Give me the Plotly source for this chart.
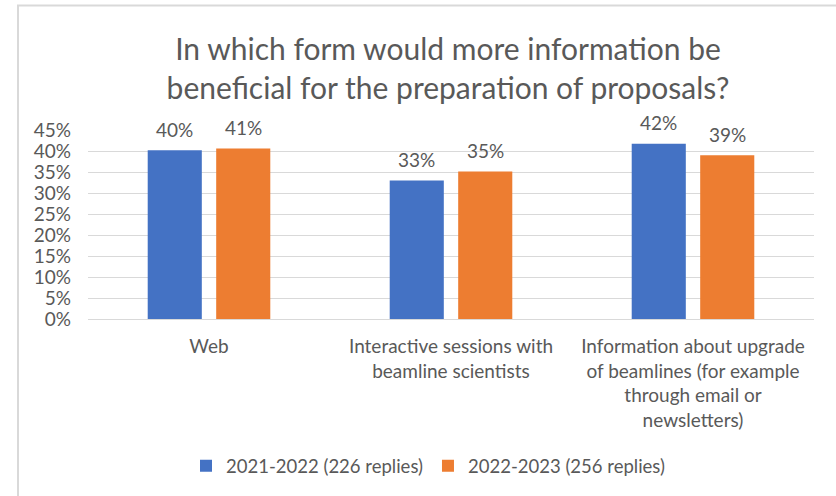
import plotly.graph_objects as go

categories = ["Web", "Interactive sessions with<br>beamline scientists",
              "Information about upgrade<br>of beamlines (for example<br>through email or<br>newsletters)"]
series_names = ["2021-2022 (226 replies)", "2022-2023 (256 replies)"]
values_2122 = [40.2, 33.0, 41.7]
values_2223 = [40.6, 35.1, 39.0]
y_ticks = [0, 5, 10, 15, 20, 25, 30, 35, 40, 45]

colors = ["#4472C4", "#ED7D31"]
FONT = "Lato"
GREY = "#595959"

fig = go.Figure()
for name, vals, col in zip(series_names, [values_2122, values_2223], colors):
    fig.add_trace(go.Bar(x=categories, y=vals, name=name, marker=dict(color=col, line=dict(width=0))))

annotations = []
for vals, shift in zip([values_2122, values_2223], [-34.25, 34.25]):
    for c, v in zip(categories, vals):
        annotations.append(dict(x=c, y=v, xref="x", yref="y", text=f"{round(v)}%", showarrow=False,
                                xshift=shift, yshift=21, yanchor="middle",
                                font=dict(family=FONT, size=19, color=GREY)))

L, R, T, B = 88, 22, 130.3, 177
W, H = 836, 496
pw, ph = W - L - R, H - T - B

fig.update_layout(
    width=W, height=H,
    margin=dict(l=L, r=R, t=T, b=B, autoexpand=False),
    paper_bgcolor="white", plot_bgcolor="white",
    bargap=0.434, bargroupgap=0.21,
    font=dict(family=FONT, size=18, color=GREY),
    title=dict(text="In which form would more information be<br>beneficial for the preparation of proposals?",
               x=448 / W, xanchor="center", y=1 - 60 / H, yanchor="top", automargin=False,
               font=dict(family=FONT, size=30, color=GREY)),
    showlegend=True,
    legend=dict(orientation="h", x=(428 - L) / pw, xanchor="center", y=-(466 - (H - B)) / ph, yanchor="middle",
                font=dict(family=FONT, size=18.5, color=GREY), traceorder="normal", itemwidth=30),
    annotations=annotations,
    shapes=[dict(type="rect", xref="paper", yref="paper",
                 x0=(18 - L) / pw, x1=2, y0=-2, y1=(H - B - 6) / ph,
                 line=dict(color="#D9D9D9", width=2), layer="below")],
)
fig.update_yaxes(range=[0, 45], tickvals=y_ticks, ticktext=[f"{t}%" for t in y_ticks], automargin=False,
                 showgrid=True, gridcolor="#D9D9D9", gridwidth=1, zeroline=False, showline=False,
                 ticks="", ticklabelstandoff=16, tickfont=dict(family=FONT, size=19, color=GREY))
fig.update_xaxes(showline=True, linecolor="#D9D9D9", linewidth=1, ticks="", automargin=False,
                 tickfont=dict(family=FONT, size=19, color=GREY), ticklabelstandoff=10)

fig.write_html("out.html", config={"displayModeBar": False},
               post_script="document.body.style.margin='0';document.body.style.overflow='hidden';")
